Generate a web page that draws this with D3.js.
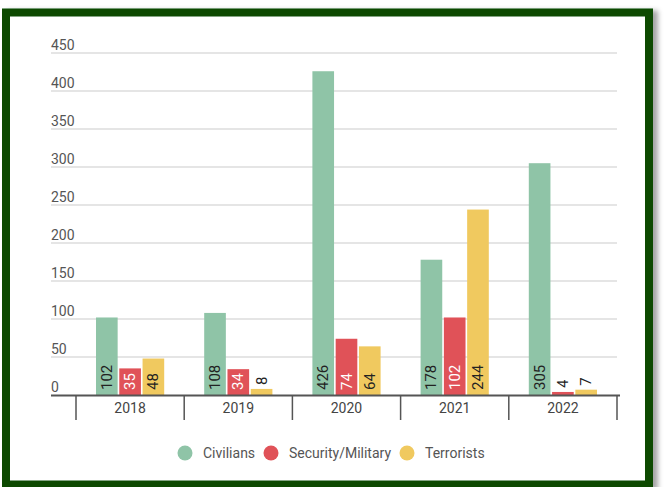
<!DOCTYPE html>
<html><head><meta charset="utf-8">
<script src="https://cdn.jsdelivr.net/npm/d3@7"></script>
<style>
html,body{margin:0;padding:0;background:#fff;}
svg{display:block;font-family:Roboto,"Noto Sans",sans-serif;}
</style></head>
<body>
<svg id="c" width="665" height="487"></svg>
<script>
const years = ["2018","2019","2020","2021","2022"];
const seriesNames = ["Civilians","Security/Military","Terrorists"];
const civilians = [102,108,426,178,305];
const security = [35,34,74,102,4];
const terrorists = [48,8,64,244,7];
const yTicks = [0,50,100,150,200,250,300,350,400,450];
const colors = ["#8fc4a7","#e05258","#f0c95f"];
const labelColors = ["#222","#fff","#222"];

const svg = d3.select("#c");
const defs = svg.append("defs");
const f = defs.append("filter").attr("id","sh").attr("x","-5%").attr("y","-5%").attr("width","115%").attr("height","115%");
f.append("feDropShadow").attr("dx",5).attr("dy",2).attr("stdDeviation",2.5).attr("flood-color","#000").attr("flood-opacity",0.35);
svg.append("rect").attr("x",6).attr("y",12.5).attr("width",643).attr("height",472)
  .attr("fill","#fff").attr("stroke","#0b4a06").attr("stroke-width",8).attr("filter","url(#sh)");

const series = [civilians, security, terrorists];
const data = years.map((y,i)=>({year:y, vals:series.map(s=>s[i])}));

const x0 = d3.scaleBand().domain(years).range([76,617]).paddingInner(0).paddingOuter(0);
const x1 = d3.scaleBand().domain(seriesNames).range([20, x0.bandwidth()-20]).paddingInner(0.07);
const y = d3.scaleLinear().domain([0,450]).range([395,53]);

const g = svg.append("g");
g.selectAll("line.grid").data(yTicks.filter(t=>t>0)).join("line")
  .attr("x1",51).attr("x2",617).attr("y1",d=>y(d)).attr("y2",d=>y(d))
  .attr("stroke","#dcdcdc").attr("stroke-width",1.5);
g.selectAll("text.yl").data(yTicks).join("text")
  .attr("x",51).attr("y",d=>y(d)-3.5).attr("font-size",14).attr("fill","#555")
  .text(d=>d);

const grp = svg.selectAll("g.yr").data(data).join("g").attr("transform",d=>`translate(${x0(d.year)},0)`);
grp.each(function(d){
  const gg = d3.select(this);
  d.vals.forEach((v,k)=>{
    const bx = x1(seriesNames[k]), bw = x1.bandwidth();
    gg.append("rect").attr("x",bx).attr("y",y(v)).attr("width",bw).attr("height",y(0)-y(v)).attr("fill",colors[k]);
    const inside = v >= 30;
    const cx = bx + bw/2 + 5;
    const ty = inside ? y(0)-5 : y(v)-4;
    gg.append("text").attr("transform",`translate(${cx},${ty}) rotate(-90)`)
      .attr("font-size",15).attr("fill", inside ? labelColors[k] : "#222")
      .attr("text-anchor","start").text(v);
  });
});

const ax = svg.append("g");
ax.append("line").attr("x1",51).attr("x2",620).attr("y1",395.5).attr("y2",395.5).attr("stroke","#555").attr("stroke-width",2);
const bounds = years.map(yv=>x0(yv)).concat([x0(years[years.length-1])+x0.bandwidth()]);
ax.selectAll("line.t").data(bounds).join("line")
  .attr("x1",d=>d).attr("x2",d=>d).attr("y1",395).attr("y2",420).attr("stroke","#555").attr("stroke-width",1.5);
ax.selectAll("text.xl").data(years).join("text")
  .attr("x",d=>x0(d)+x0.bandwidth()/2).attr("y",413).attr("text-anchor","middle")
  .attr("font-size",14).attr("fill","#444").text(d=>d);

const legX = [185,271,407];
const lg = svg.append("g");
seriesNames.forEach((n,k)=>{
  lg.append("circle").attr("cx",legX[k]).attr("cy",453).attr("r",7.5).attr("fill",colors[k]);
  lg.append("text").attr("x",legX[k]+18).attr("y",458).attr("font-size",14).attr("fill","#555").text(n);
});
</script>
</body></html>
